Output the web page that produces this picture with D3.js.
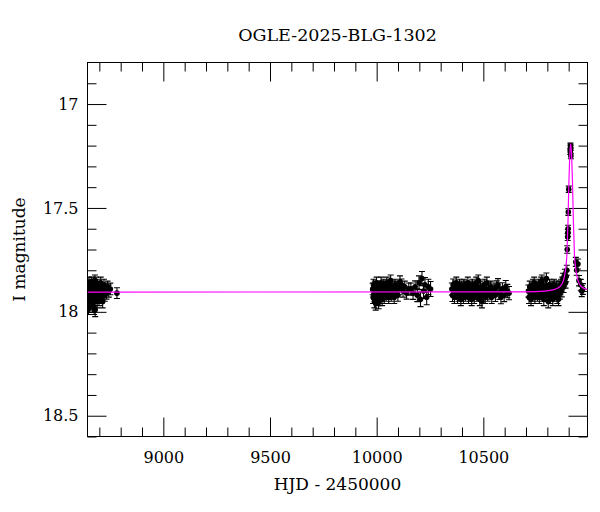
<!DOCTYPE html>
<html>
<head>
<meta charset="utf-8">
<script src="https://cdn.jsdelivr.net/npm/d3@7"></script>
<style>
  body { margin: 0; background: #fff; }
  text { font-family: "DejaVu Serif", serif; fill: #000; }
</style>
</head>
<body>
<div id="chart"></div>
<script>
var title = "OGLE-2025-BLG-1302";
var xLabel = "HJD - 2450000";
var yLabel = "I magnitude";

var xMajor = [9000, 9500, 10000, 10500];
var yMajor = [17, 17.5, 18, 18.5];

// [HJD-2450000, I mag, error] per observing season
var season2019 = [
  [8645.6,17.92,0.030],[8646.5,17.96,0.032],[8647.4,17.88,0.028],[8648.3,17.94,0.030],[8649.5,17.98,0.033],
  [8650.4,17.90,0.029],[8651.6,17.86,0.027],[8652.5,17.93,0.030],[8653.4,17.97,0.032],[8654.6,17.89,0.028],
  [8655.5,17.92,0.029],[8656.4,17.95,0.031],[8657.6,17.87,0.027],[8658.5,17.91,0.029],[8659.4,17.94,0.030],
  [8660.6,17.88,0.028],[8661.5,17.96,0.031],[8662.4,17.90,0.028],[8664.5,17.86,0.027],[8665.4,17.93,0.030],
  [8666.6,17.89,0.028],[8667.5,17.97,0.032],[8668.4,17.91,0.029],[8670.5,17.87,0.027],[8671.4,17.94,0.030],
  [8672.6,17.90,0.028],[8674.5,17.95,0.031],[8675.4,17.98,0.033],[8676.6,17.88,0.028],[8678.5,17.92,0.029],
  [8679.4,17.85,0.027],[8680.6,17.99,0.033],[8682.5,17.91,0.029],[8683.4,17.86,0.027],[8685.5,17.93,0.030],
  [8687.4,17.89,0.028],[8689.6,17.95,0.031],[8691.5,17.87,0.027],[8693.4,17.92,0.029],[8695.6,17.90,0.028],
  [8698.5,17.94,0.030],[8700.4,17.88,0.028],[8703.6,17.91,0.029],[8706.5,17.86,0.027],[8709.4,17.93,0.030],
  [8712.6,17.89,0.028],[8715.5,17.95,0.031],[8718.4,17.90,0.028],[8721.6,17.87,0.027],[8725.5,17.92,0.029],
  [8729.4,17.89,0.028],[8733.6,17.91,0.029],[8738.5,17.88,0.028],[8744.4,17.90,0.029],[8751.5,17.89,0.028],
  [8782.5,17.91,0.026]
];

var season2023 = [
  [9981.4,17.89,0.028],[9983.5,17.93,0.030],[9985.3,17.87,0.027],[9987.6,17.91,0.029],[9989.4,17.95,0.031],
  [9991.5,17.88,0.028],[9993.3,17.92,0.029],[9995.6,17.96,0.032],[9997.4,17.90,0.028],[9999.5,17.86,0.027],
  [10001.3,17.93,0.030],[10003.6,17.89,0.028],[10005.4,17.91,0.029],[10007.5,17.94,0.030],[10009.3,17.955,0.030],
  [10011.6,17.90,0.028],[10013.4,17.93,0.030],[10016.5,17.88,0.028],[10018.3,17.92,0.029],[10020.6,17.86,0.027],
  [10023.4,17.90,0.028],[10025.5,17.94,0.030],[10028.3,17.89,0.028],[10030.6,17.91,0.029],[10033.4,17.87,0.027],
  [10035.5,17.93,0.030],[10038.3,17.90,0.028],[10041.6,17.88,0.028],[10044.4,17.92,0.029],[10047.5,17.86,0.027],
  [10050.3,17.91,0.029],[10053.6,17.89,0.028],[10056.4,17.93,0.030],[10059.5,17.87,0.027],[10062.3,17.90,0.028],
  [10065.6,17.85,0.027],[10068.4,17.92,0.029],[10071.5,17.88,0.028],[10074.3,17.91,0.029],[10078.6,17.89,0.028],
  [10082.4,17.93,0.030],[10086.5,17.87,0.027],[10090.3,17.90,0.028],[10094.6,17.88,0.028],[10099.4,17.92,0.029],
  [10104.5,17.89,0.028],[10109.3,17.855,0.028],[10116.6,17.87,0.028],[10123.4,17.90,0.029],[10131.5,17.88,0.028],
  [10140.3,17.91,0.029],[10150.6,17.89,0.029],[10160.4,17.89,0.029],[10170.5,17.91,0.030],[10180.3,17.88,0.029],
  [10190.6,17.92,0.031],[10198.4,17.86,0.033],[10205.5,17.94,0.035],[10212.3,17.84,0.034],[10219.6,17.90,0.036],
  [10226.4,17.87,0.035],[10234.5,17.93,0.036],[10242.3,17.88,0.037],[10252.6,17.89,0.036]
];

var season2024 = [
  [10352.5,17.89,0.029],[10355.4,17.92,0.030],[10358.6,17.87,0.028],[10361.3,17.90,0.029],[10364.5,17.93,0.030],
  [10367.4,17.88,0.028],[10370.6,17.91,0.029],[10373.3,17.86,0.027],[10376.5,17.90,0.028],[10379.4,17.93,0.030],
  [10382.6,17.89,0.028],[10385.3,17.92,0.029],[10388.5,17.87,0.027],[10391.4,17.90,0.028],[10394.6,17.94,0.030],
  [10397.3,17.88,0.028],[10400.5,17.91,0.029],[10403.4,17.89,0.028],[10406.6,17.93,0.030],[10409.3,17.87,0.027],
  [10412.5,17.90,0.028],[10415.4,17.92,0.029],[10418.6,17.88,0.028],[10421.3,17.91,0.029],[10424.5,17.89,0.028],
  [10427.4,17.86,0.027],[10430.6,17.93,0.030],[10433.3,17.90,0.028],[10436.5,17.88,0.028],[10439.4,17.92,0.029],
  [10442.6,17.89,0.028],[10445.3,17.94,0.030],[10448.5,17.87,0.027],[10451.4,17.91,0.029],[10454.6,17.89,0.028],
  [10457.3,17.93,0.030],[10460.5,17.88,0.028],[10463.4,17.90,0.028],[10466.6,17.86,0.027],[10469.3,17.92,0.029],
  [10472.5,17.89,0.028],[10476.4,17.85,0.027],[10479.6,17.91,0.029],[10483.3,17.94,0.030],[10486.5,17.88,0.028],
  [10490.4,17.92,0.029],[10493.6,17.95,0.031],[10497.3,17.89,0.028],[10500.5,17.91,0.029],[10504.4,17.87,0.027],
  [10508.6,17.93,0.030],[10512.3,17.90,0.028],[10516.5,17.86,0.027],[10520.4,17.92,0.029],[10524.6,17.89,0.028],
  [10529.3,17.91,0.029],[10534.5,17.88,0.028],[10539.4,17.93,0.030],[10544.6,17.90,0.029],[10550.3,17.89,0.029],
  [10556.5,17.92,0.030],[10562.4,17.88,0.029],[10568.6,17.87,0.030],[10575.3,17.91,0.030],[10582.5,17.93,0.031],
  [10589.4,17.89,0.030],[10597.6,17.92,0.031],[10605.3,17.88,0.031],[10612.5,17.90,0.032],[10620.4,17.91,0.032]
];

var season2025 = [
  [10711.5,17.90,0.029],[10714.4,17.93,0.030],[10717.6,17.88,0.028],[10720.3,17.91,0.029],[10723.5,17.94,0.030],
  [10726.4,17.89,0.028],[10729.6,17.92,0.029],[10732.3,17.87,0.027],[10735.5,17.90,0.028],[10738.4,17.86,0.027],
  [10741.6,17.93,0.030],[10744.3,17.89,0.028],[10747.5,17.91,0.029],[10750.4,17.88,0.028],[10753.6,17.92,0.029],
  [10756.3,17.90,0.028],[10759.5,17.87,0.027],[10762.4,17.93,0.030],[10765.6,17.89,0.028],[10768.3,17.91,0.029],
  [10771.5,17.86,0.027],[10774.4,17.85,0.027],[10777.6,17.92,0.029],[10780.3,17.89,0.028],[10783.5,17.94,0.030],
  [10786.4,17.90,0.028],[10789.6,17.88,0.028],[10792.3,17.92,0.029],[10795.5,17.84,0.027],[10798.4,17.91,0.029],
  [10801.6,17.89,0.028],[10804.3,17.95,0.031],[10807.5,17.90,0.028],[10810.4,17.87,0.027],[10813.6,17.93,0.030],
  [10816.3,17.89,0.028],[10819.5,17.91,0.029],[10822.4,17.88,0.028],[10825.6,17.94,0.030],[10828.3,17.90,0.028],
  [10831.5,17.87,0.027],[10834.4,17.92,0.029],[10837.6,17.89,0.028],[10840.3,17.91,0.029],[10843.5,17.88,0.028],
  [10846.4,17.93,0.030],[10849.6,17.90,0.028],[10852.3,17.94,0.030],[10855.5,17.88,0.028],[10858.4,17.91,0.029],
  [10861.6,17.89,0.028],[10864.3,17.87,0.027],[10867.5,17.90,0.028],[10870.4,17.86,0.027],[10873.6,17.84,0.026],
  [10876.3,17.88,0.027],[10879.5,17.85,0.026],[10882.4,17.82,0.025],[10885.6,17.86,0.026],[10888.3,17.83,0.025],
  [10891.5,17.80,0.024],
  [10893.4,17.70,0.018],[10895.5,17.64,0.017],[10896.3,17.62,0.017],[10897.4,17.60,0.017],[10898.5,17.52,0.016],
  [10900.4,17.41,0.015],[10907.5,17.23,0.013],[10908.4,17.20,0.012],[10909.5,17.21,0.013],[10910.4,17.25,0.013],
  [10933.5,17.76,0.022],[10937.4,17.80,0.024],[10943.5,17.77,0.024],[10948.4,17.85,0.025],[10956.5,17.87,0.026],
  [10961.4,17.90,0.027],[10966.5,17.89,0.026]
];

// fitted point-lens model
var model = [
  [8644.5,17.905],[10700,17.904],[10790,17.900],[10830,17.893],[10860,17.878],[10875,17.850],
  [10885,17.800],[10892,17.720],[10897,17.560],[10901,17.380],[10905,17.250],[10909.5,17.190],
  [10914,17.250],[10918,17.380],[10922,17.560],[10927,17.720],[10934,17.800],[10944,17.850],
  [10959,17.878],[10988.3,17.893]
];

var W = 600, H = 512;
var pLeft = 87.5, pRight = 587.5, pTop = 62.5, pBottom = 436.5;

var x = d3.scaleLinear().domain([8644.5, 10988.3]).range([pLeft, pRight]);
var y = d3.scaleLinear().domain([16.8, 18.6]).range([pTop, pBottom]);

var svg = d3.select("#chart").append("svg")
    .attr("width", W)
    .attr("height", H);

svg.append("defs").append("clipPath").attr("id", "plotclip")
  .append("rect")
    .attr("x", pLeft).attr("y", pTop)
    .attr("width", pRight - pLeft).attr("height", pBottom - pTop);

var xMinor = d3.range(8700, 11000, 100).filter(function(d) { return d % 500 !== 0; });
var yMinor = d3.range(16.9, 18.6, 0.1).map(function(d) { return +d.toFixed(1); })
    .filter(function(d) { return Math.abs(d * 2 - Math.round(d * 2)) > 1e-6; });

function styleAxis(g) {
    g.select(".domain").remove();
    g.selectAll(".tick line").attr("stroke", "#000").attr("stroke-width", 1);
    g.selectAll("text").attr("font-family", "DejaVu Serif").attr("font-size", 16).attr("fill", "#000");
}

// bottom
svg.append("g").attr("transform", "translate(0," + pBottom + ")")
    .call(d3.axisBottom(x).tickValues(xMinor).tickSize(-9).tickFormat(""))
    .call(styleAxis);
svg.append("g").attr("transform", "translate(0," + pBottom + ")")
    .call(d3.axisBottom(x).tickValues(xMajor).tickSize(-19).tickPadding(15).tickFormat(d3.format("d")))
    .call(styleAxis);
// top
svg.append("g").attr("transform", "translate(0," + pTop + ")")
    .call(d3.axisTop(x).tickValues(xMinor).tickSize(-9).tickFormat(""))
    .call(styleAxis);
svg.append("g").attr("transform", "translate(0," + pTop + ")")
    .call(d3.axisTop(x).tickValues(xMajor).tickSize(-19).tickFormat(""))
    .call(styleAxis);
// left
svg.append("g").attr("transform", "translate(" + pLeft + ",0)")
    .call(d3.axisLeft(y).tickValues(yMinor).tickSize(-9).tickFormat(""))
    .call(styleAxis);
svg.append("g").attr("transform", "translate(" + pLeft + ",0)")
    .call(d3.axisLeft(y).tickValues(yMajor).tickSize(-19).tickPadding(9).tickFormat(function(d) { return String(d); }))
    .call(styleAxis);
// right
svg.append("g").attr("transform", "translate(" + pRight + ",0)")
    .call(d3.axisRight(y).tickValues(yMinor).tickSize(-9).tickFormat(""))
    .call(styleAxis);
svg.append("g").attr("transform", "translate(" + pRight + ",0)")
    .call(d3.axisRight(y).tickValues(yMajor).tickSize(-19).tickFormat(""))
    .call(styleAxis);

svg.append("rect")
    .attr("x", pLeft).attr("y", pTop)
    .attr("width", pRight - pLeft).attr("height", pBottom - pTop)
    .attr("fill", "none").attr("stroke", "#000").attr("stroke-width", 1);

var data = season2019.concat(season2023, season2024, season2025);

var plot = svg.append("g").attr("clip-path", "url(#plotclip)");
var cap = 3;

var bars = plot.append("g").attr("class", "errorbars")
    .attr("stroke", "#000").attr("stroke-width", 1.1).attr("fill", "none");
bars.selectAll("path").data(data).enter().append("path")
    .attr("d", function(d) {
        var cx = x(d[0]), y1 = y(d[1] - d[2]), y2 = y(d[1] + d[2]);
        return "M" + (cx - cap) + "," + y1 + "H" + (cx + cap) +
               "M" + cx + "," + y1 + "V" + y2 +
               "M" + (cx - cap) + "," + y2 + "H" + (cx + cap);
    });

plot.append("g").attr("class", "points")
  .selectAll("circle").data(data).enter().append("circle")
    .attr("cx", function(d) { return x(d[0]); })
    .attr("cy", function(d) { return y(d[1]); })
    .attr("r", 2.8)
    .attr("fill", "#000");

var line = d3.line()
    .x(function(d) { return x(d[0]); })
    .y(function(d) { return y(d[1]); })
    .curve(d3.curveMonotoneX);

plot.append("path")
    .datum(model)
    .attr("d", line)
    .attr("fill", "none")
    .attr("stroke", "#ff00ff")
    .attr("stroke-width", 1.2);

// titles
svg.append("text")
    .attr("x", (pLeft + pRight) / 2).attr("y", 41)
    .attr("text-anchor", "middle")
    .attr("font-size", 17.5)
    .text(title);

svg.append("text")
    .attr("x", (pLeft + pRight) / 2).attr("y", 490)
    .attr("text-anchor", "middle")
    .attr("font-size", 17)
    .text(xLabel);

svg.append("text")
    .attr("transform", "translate(25," + ((pTop + pBottom) / 2) + ") rotate(-90)")
    .attr("text-anchor", "middle")
    .attr("font-size", 17)
    .text(yLabel);
</script>
</body>
</html>
